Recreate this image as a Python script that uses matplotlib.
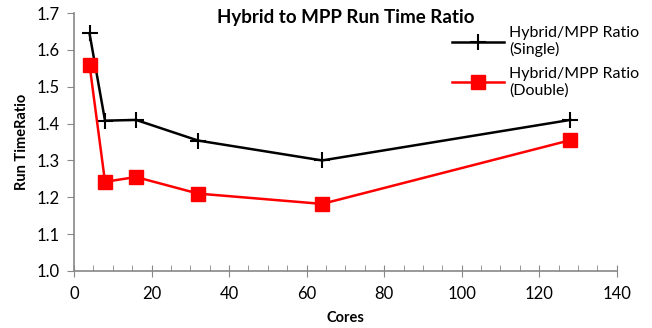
import matplotlib
matplotlib.use('Agg')
import matplotlib.pyplot as plt
from matplotlib.ticker import MultipleLocator

plt.rcParams['font.family'] = ['Lato', 'DejaVu Sans']

cores = [4, 8, 16, 32, 64, 128]
ratio_single = [1.645, 1.408, 1.410, 1.354, 1.300, 1.410]
ratio_double = [1.560, 1.242, 1.255, 1.210, 1.182, 1.355]

fig = plt.figure(figsize=(6.52, 3.28), dpi=100)
ax = fig.add_axes([0.1135, 0.174, 0.8325, 0.786])

ax.plot(cores, ratio_single, color='black', lw=1.8, marker='+', ms=11, mew=1.5,
        label='Hybrid/MPP Ratio\n(Single)')
ax.plot(cores, ratio_double, color='red', lw=1.8, marker='s', ms=10,
        label='Hybrid/MPP Ratio\n(Double)')

ax.set_xlim(0, 140)
ax.set_ylim(1.0, 1.7)
ax.xaxis.set_major_locator(MultipleLocator(20))
ax.xaxis.set_minor_locator(MultipleLocator(5))
ax.yaxis.set_major_locator(MultipleLocator(0.1))
ax.yaxis.set_major_formatter(plt.FormatStrFormatter('%.1f'))

for s in ['top', 'right']:
    ax.spines[s].set_visible(False)
for s in ['left', 'bottom']:
    ax.spines[s].set_color('#888888')
    ax.spines[s].set_linewidth(1.2)
ax.tick_params(axis='both', which='both', color='#888888', labelsize=12)
ax.tick_params(axis='x', which='major', direction='inout', length=8, pad=7)
ax.tick_params(axis='x', which='minor', direction='in', length=4)
ax.tick_params(axis='y', which='major', direction='out', length=5, pad=5)

ax.set_xlabel('Cores', fontweight='bold', fontsize=10.5, labelpad=6)
ax.set_ylabel('Run TimeRatio', fontweight='bold', fontsize=10.5, labelpad=6)
ax.text(0.5, 0.984, 'Hybrid to MPP Run Time Ratio', transform=ax.transAxes,
        ha='center', va='center', fontweight='bold', fontsize=13.5)

ax.legend(loc='upper left', bbox_to_anchor=(0.696, 0.95), frameon=False, fontsize=11.5,
          handlelength=3.3, handletextpad=0.3, labelspacing=0.6,
          borderpad=0, borderaxespad=0)

fig.savefig('out.png', dpi=100)
